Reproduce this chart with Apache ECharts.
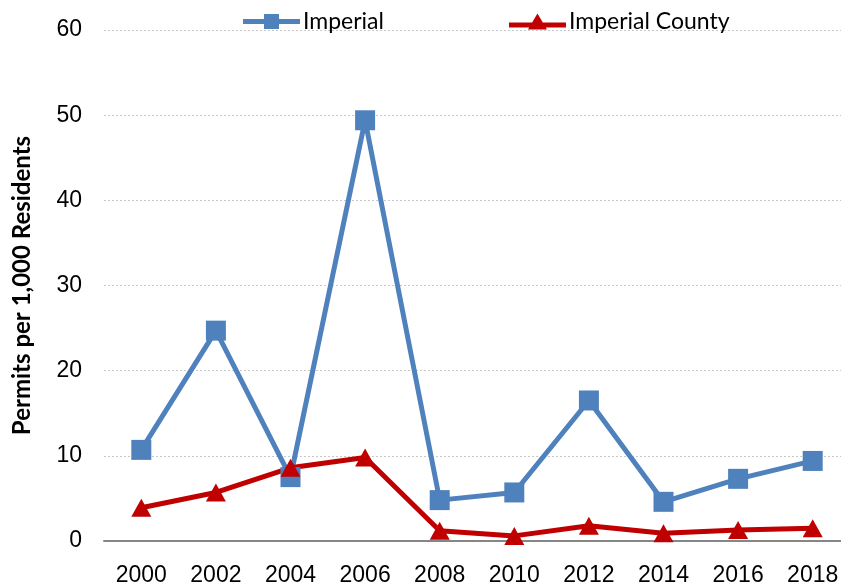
<!DOCTYPE html>
<html>
<head>
<meta charset="utf-8">
<script src="https://cdn.jsdelivr.net/npm/echarts@6/dist/echarts.min.js"></script>
<style>
  html, body { margin: 0; padding: 0; background: #fff; }
  #container { width: 841px; height: 588px; }
</style>
</head>
<body>
<div id="container"></div>
<script>
var years = ['2000', '2002', '2004', '2006', '2008', '2010', '2012', '2014', '2016', '2018'];
var imperial = [10.7, 24.7, 7.5, 49.4, 4.8, 5.7, 16.5, 4.6, 7.3, 9.4];
var imperialCounty = [3.9, 5.7, 8.6, 9.8, 1.2, 0.6, 1.8, 0.9, 1.3, 1.5];
var yTicks = [0, 10, 20, 30, 40, 50, 60];

var dom = document.getElementById('container');
var myChart = echarts.init(dom);

var tickFont = { fontFamily: '"Liberation Sans Narrow", "Arial Narrow", "Liberation Sans", sans-serif', fontSize: 23, color: '#000' };

// legend icons: thick line with marker in the middle
var squareIcon = 'path://M0,5.5H57V10.5H0Z M21,0.5H36V15.5H21Z';
var triangleIcon = 'path://M0,9H57V14H0Z M19,16L28.5,0L38,16Z';

myChart.setOption({
    animation: false,
    backgroundColor: '#fff',
    legend: {
        left: 238,
        top: 5,
        itemWidth: 57,
        itemHeight: 16,
        itemGap: 125,
        data: [
            { name: 'Imperial', icon: squareIcon },
            { name: 'Imperial County', icon: triangleIcon }
        ],
        textStyle: { fontFamily: 'Lato', fontSize: 23, color: '#000', padding: [0, 0, 0, -2] }
    },
    grid: {
        left: 104,
        right: -9,
        top: 30,
        bottom: 47,
        outerBoundsMode: 'none'
    },
    xAxis: {
        type: 'category',
        boundaryGap: true,
        data: years,
        axisTick: { show: false },
        axisLine: { lineStyle: { color: '#868686', width: 2 } },
        axisLabel: Object.assign({ margin: 23 }, tickFont)
    },
    yAxis: {
        type: 'value',
        min: yTicks[0],
        max: yTicks[yTicks.length - 1],
        interval: 10,
        name: 'Permits per 1,000 Residents',
        nameLocation: 'middle',
        nameGap: 70,
        nameTextStyle: { fontFamily: 'Lato', fontWeight: 'bold', fontSize: 24, color: '#000' },
        axisLine: { show: false },
        axisTick: { show: false },
        axisLabel: Object.assign({ margin: 22 }, tickFont),
        splitLine: { lineStyle: { color: '#c8c8c8', type: [2, 2], width: 1 } }
    },
    series: [
        {
            name: 'Imperial',
            type: 'line',
            data: imperial,
            symbol: 'rect',
            symbolSize: 20,
            lineStyle: { color: '#4F81BD', width: 5 },
            itemStyle: { color: '#4F81BD' }
        },
        {
            name: 'Imperial County',
            type: 'line',
            data: imperialCounty,
            symbol: 'triangle',
            symbolSize: [20, 18],
            lineStyle: { color: '#C00000', width: 5 },
            itemStyle: { color: '#C00000' }
        }
    ]
});
</script>
</body>
</html>
